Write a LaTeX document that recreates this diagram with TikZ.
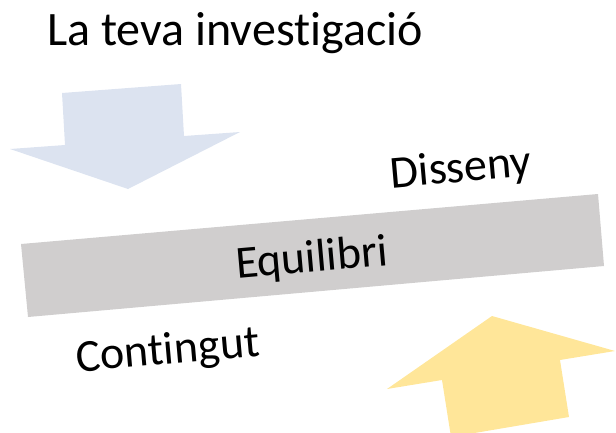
\documentclass[tikz,border=0pt]{standalone}
\usepackage{fontspec}
\setmainfont{Carlito}[Ligatures=NoCommon]
\definecolor{arrowblue}{HTML}{DCE3F0}
\definecolor{arrowyellow}{HTML}{FFE699}
\definecolor{bargray}{HTML}{D0CECE}
\begin{document}
\begin{tikzpicture}[x=1pt,y=-1pt,
  label/.style={inner sep=0pt, font=\fontsize{46}{52}\selectfont},
  tilted/.style={label, rotate=5, anchor=base}]
\useasboundingbox (0,0) rectangle (616,432);
% blue down arrow
\fill[arrowblue] (62,93) -- (181,84) -- (184,136) -- (240,132) -- (128,189) -- (10,149) -- (65,145) -- cycle;
% yellow up arrow
\fill[arrowyellow] (492,316) -- (615,351) -- (560,360) -- (569,417) -- (451,437) -- (442,380) -- (387,389) -- cycle;
% gray bar
\fill[bargray] (21,244) -- (598,194) -- (604,266) -- (28,317) -- cycle;
% texts
\node[label, anchor=base, font=\fontsize{48}{54}\selectfont] (title) at (235,45) {La teva investigació};
\node[tilted] (disseny) at (462,182) {Disseny};
\node[tilted] (equilibri) at (313,272) {Equilibri};
\node[tilted] (contingut) at (169,364) {Contingut};
\end{tikzpicture}
\end{document}
